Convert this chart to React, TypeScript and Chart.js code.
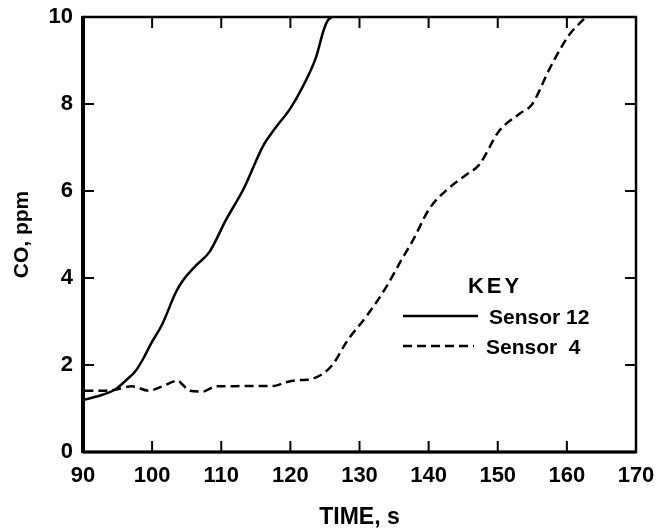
import React, { useEffect, useRef } from 'react';
import { Chart, registerables } from 'chart.js';

Chart.register(...registerables);

const xTicks = [90, 100, 110, 120, 130, 140, 150, 160, 170];
const yTicks = [0, 2, 4, 6, 8, 10];

const sensor12Label = 'Sensor 12';
const sensor12Time = [90.2, 92.7, 94.6, 96.1, 97.6, 98.8, 99.8, 101.5, 103.4, 104.4, 106.3, 108.3, 110.7, 113.2, 116.1, 117.6, 120.0, 121.7, 123.7, 124.8, 125.4, 126.0];
const sensor12CO = [1.2, 1.31, 1.43, 1.63, 1.86, 2.17, 2.48, 2.95, 3.66, 3.93, 4.28, 4.6, 5.34, 6.04, 7.05, 7.4, 7.9, 8.37, 9.07, 9.69, 9.92, 10.0];

const sensor4Label = 'Sensor  4';
const sensor4Time = [90.2, 93.2, 94.6, 97.1, 99.5, 101.5, 103.7, 104.4, 105.4, 107.3, 109.3, 111.2, 114.1, 117.6, 119.5, 121.0, 122.4, 124.9, 126.3, 128.2, 131.1, 133.9, 135.8, 137.8, 140.1, 142.8, 145.4, 147.3, 150.2, 153.1, 155.0, 157.4, 160.2, 162.6];
const sensor4CO = [1.41, 1.41, 1.43, 1.51, 1.41, 1.51, 1.64, 1.55, 1.41, 1.39, 1.51, 1.51, 1.52, 1.52, 1.61, 1.65, 1.66, 1.82, 2.05, 2.55, 3.14, 3.8, 4.34, 4.89, 5.59, 6.05, 6.37, 6.6, 7.38, 7.77, 8.0, 8.78, 9.56, 9.98];

const xTitle = 'TIME, s';
const yTitle = 'CO, ppm';
const keyTitle = 'KEY';

const FONT = '"Liberation Sans", Arial, Helvetica, sans-serif';
const DASH = [9, 5];

export default function App() {
  const ref = useRef<HTMLCanvasElement>(null);

  useEffect(() => {
    if (!ref.current) return;

    const framePlugin = {
      id: 'frame',
      afterDatasetsDraw(chart: any) {
        const { ctx, chartArea: a, scales } = chart;
        ctx.save();
        ctx.strokeStyle = '#000';
        ctx.lineCap = 'butt';
        const line = (x1: number, y1: number, x2: number, y2: number) => {
          ctx.beginPath();
          ctx.moveTo(x1, y1);
          ctx.lineTo(x2, y2);
          ctx.stroke();
        };
        ctx.lineWidth = 2.5;
        ctx.strokeRect(a.left, a.top, a.right - a.left, a.bottom - a.top);
        ctx.lineWidth = 4;
        line(a.left, a.top - 1, a.left, a.bottom + 1);
        ctx.lineWidth = 3;
        line(a.left, a.bottom, a.right, a.bottom);

        const T = 11;
        ctx.lineWidth = 2;
        xTicks.slice(1, -1).forEach((v) => {
          const px = scales.x.getPixelForValue(v);
          line(px, a.bottom, px, a.bottom - T);
          line(px, a.top, px, a.top + T);
        });
        yTicks.slice(1, -1).forEach((v) => {
          const py = scales.y.getPixelForValue(v);
          line(a.left, py, a.left + T, py);
          line(a.right, py, a.right - T, py);
        });

        // Key
        ctx.fillStyle = '#000';
        ctx.font = `bold 22px ${FONT}`;
        ctx.textAlign = 'center';
        ctx.textBaseline = 'middle';
        (ctx as any).letterSpacing = '3px';
        ctx.fillText(keyTitle, 495, 287);
        (ctx as any).letterSpacing = '0px';

        const ds = chart.data.datasets;
        const rows = [
          { y: 316, ty: 318, x1: 403, x2: 478, tx: 489 },
          { y: 346, ty: 348, x1: 403, x2: 474, tx: 486 },
        ];
        rows.forEach((r, i) => {
          ctx.lineWidth = 2.5;
          ctx.setLineDash(ds[i].borderDash || []);
          line(r.x1, r.y, r.x2, r.y);
          ctx.setLineDash([]);
          ctx.font = `bold 21px ${FONT}`;
          ctx.textAlign = 'left';
          ctx.fillText(ds[i].label, r.tx, r.ty);
        });
        ctx.restore();
      },
    };

    const tickFont = { family: FONT, size: 22, weight: 'bold' as const };

    const chart = new Chart(ref.current, {
      type: 'line',
      data: {
        datasets: [
          {
            label: sensor12Label,
            data: sensor12Time.map((t, i) => ({ x: t, y: sensor12CO[i] })),
            borderColor: '#000',
            borderWidth: 2.5,
            pointRadius: 0,
            cubicInterpolationMode: 'monotone',
            fill: false,
          },
          {
            label: sensor4Label,
            data: sensor4Time.map((t, i) => ({ x: t, y: sensor4CO[i] })),
            borderColor: '#000',
            borderWidth: 2.5,
            borderDash: DASH,
            pointRadius: 0,
            cubicInterpolationMode: 'monotone',
            fill: false,
          },
        ],
      },
      options: {
        animation: false,
        responsive: true,
        maintainAspectRatio: false,
        layout: { padding: { top: 17, right: 34, left: 0, bottom: 0 } },
        plugins: { legend: { display: false }, tooltip: { enabled: false } },
        scales: {
          x: {
            type: 'linear',
            min: xTicks[0],
            max: xTicks[xTicks.length - 1],
            afterBuildTicks: (s: any) => {
              s.ticks = xTicks.map((v) => ({ value: v }));
            },
            grid: { display: false, drawTicks: false },
            border: { display: false },
            ticks: { color: '#000', font: tickFont, padding: 11, maxRotation: 0, autoSkip: false },
            title: {
              display: true,
              text: xTitle,
              color: '#000',
              font: { family: FONT, size: 23, weight: 'bold', lineHeight: 1 },
              padding: { top: 0, bottom: 0 },
            },
            afterFit: (s: any) => {
              s.height = 77;
              s.paddingLeft = 0;
              s.paddingRight = 0;
            },
          },
          y: {
            type: 'linear',
            min: yTicks[0],
            max: yTicks[yTicks.length - 1],
            afterBuildTicks: (s: any) => {
              s.ticks = yTicks.map((v) => ({ value: v }));
            },
            grid: { display: false, drawTicks: false },
            border: { display: false },
            ticks: { color: '#000', font: tickFont, padding: 10, autoSkip: false },
            title: {
              display: true,
              text: yTitle,
              color: '#000',
              font: { family: FONT, size: 21, weight: 'bold', lineHeight: 1 },
              padding: { top: 12, bottom: 0 },
            },
            afterFit: (s: any) => {
              s.width = 83;
              s.paddingTop = 0;
              s.paddingBottom = 0;
            },
          },
        },
      },
      plugins: [framePlugin],
    } as any);

    return () => chart.destroy();
  }, []);

  return (
    <div style={{ position: 'fixed', left: 0, top: 0, width: 670, height: 529, background: '#fff' }}>
      <canvas ref={ref} />
    </div>
  );
}
